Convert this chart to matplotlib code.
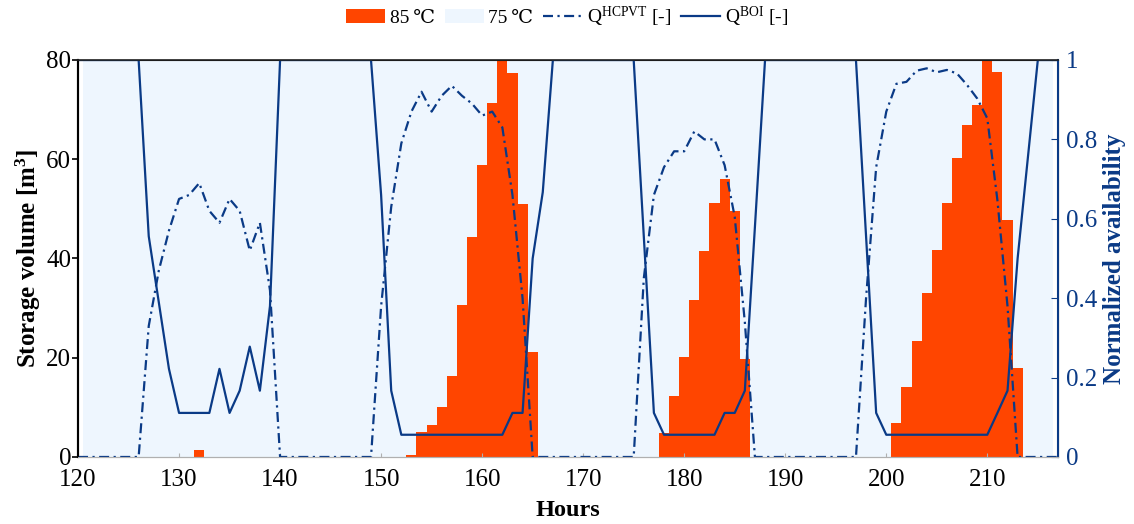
import numpy as np
import matplotlib
matplotlib.use('Agg')
import matplotlib.pyplot as plt

plt.rcParams['font.family'] = ['Liberation Serif', 'DejaVu Serif']
plt.rcParams['mathtext.fontset'] = 'custom'
plt.rcParams['mathtext.rm'] = 'Liberation Serif'
plt.rcParams['mathtext.it'] = 'Liberation Serif:italic'
plt.rcParams['mathtext.bf'] = 'Liberation Serif:bold'

# horas de las barras (121..216) y de las lineas (120..217)
horas_barras = np.arange(121, 217)
horas_lineas = np.arange(120, 218)

# volumen a 85 C [m3]
v85 = [0, 0, 0, 0, 0, 0, 0, 0, 0, 0, 0,
       1.5,
       0, 0, 0, 0, 0, 0, 0, 0, 0, 0, 0, 0, 0, 0, 0, 0, 0, 0, 0, 0,
       0.4, 5.0, 6.5, 10.1, 16.3, 30.6, 44.4, 58.8, 71.4, 80.0, 77.4, 51.0, 21.2,
       0, 0, 0, 0, 0, 0, 0, 0, 0, 0, 0, 0,
       4.8, 12.3, 20.1, 31.6, 41.5, 51.1, 56.0, 49.6, 19.7,
       0, 0, 0, 0, 0, 0, 0, 0, 0, 0, 0, 0, 0, 0,
       6.8, 14.2, 23.4, 33.0, 41.7, 51.1, 60.3, 66.9, 70.9, 80.0, 77.6, 47.8, 17.9,
       0, 0, 0]

# volumen a 75 C [m3]
v75 = [80, 80, 80, 80, 80, 80, 80, 80, 80, 80, 80,
       78.5,
       80, 80, 80, 80, 80, 80, 80, 80, 80, 80, 80, 80, 80, 80, 80, 80, 80, 80, 80, 80,
       79.6, 75.0, 73.5, 69.9, 63.7, 49.4, 35.6, 21.2, 8.6, 0.0, 2.6, 29.0, 58.8,
       80, 80, 80, 80, 80, 80, 80, 80, 80, 80, 80, 80,
       75.2, 67.7, 59.9, 48.4, 38.5, 28.9, 24.0, 30.4, 60.3,
       80, 80, 80, 80, 80, 80, 80, 80, 80, 80, 80, 80, 80, 80,
       73.2, 65.8, 56.6, 47.0, 38.3, 28.9, 19.7, 13.1, 9.1, 0.0, 2.4, 32.2, 62.1,
       80, 80, 80]

# disponibilidad normalizada HCPVT
q_hcpvt = [0, 0, 0, 0, 0, 0, 0,
           0.33, 0.47, 0.57, 0.65, 0.66, 0.69, 0.62, 0.59, 0.65, 0.62, 0.52, 0.59, 0.42,
           0, 0, 0, 0, 0, 0, 0, 0, 0, 0,
           0.38, 0.63, 0.79, 0.87, 0.92, 0.87, 0.91, 0.935, 0.91, 0.89, 0.86, 0.87, 0.83, 0.66, 0.40,
           0, 0, 0, 0, 0, 0, 0, 0, 0, 0, 0,
           0.45, 0.66, 0.73, 0.77, 0.77, 0.82, 0.80, 0.80, 0.735, 0.605, 0.34,
           0, 0, 0, 0, 0, 0, 0, 0, 0, 0, 0,
           0.40, 0.73, 0.87, 0.94, 0.945, 0.973, 0.979, 0.969, 0.975, 0.966, 0.937, 0.903, 0.853, 0.647, 0.38,
           0, 0, 0, 0, 0]

# disponibilidad normalizada caldera
q_boi = [1, 1, 1, 1, 1, 1, 1,
         0.556, 0.389, 0.222, 0.111, 0.111, 0.111, 0.111, 0.222, 0.111, 0.167, 0.278, 0.167, 0.38,
         1, 1, 1, 1, 1, 1, 1, 1, 1, 1,
         0.66, 0.167, 0.056, 0.056, 0.056, 0.056, 0.056, 0.056, 0.056, 0.056, 0.056, 0.056, 0.056,
         0.111, 0.111, 0.50, 0.667,
         1, 1, 1, 1, 1, 1, 1, 1, 1,
         0.556, 0.111, 0.056, 0.056, 0.056, 0.056, 0.056, 0.056, 0.111, 0.111, 0.167, 0.58,
         1, 1, 1, 1, 1, 1, 1, 1, 1, 1,
         0.556, 0.111, 0.056, 0.056, 0.056, 0.056, 0.056, 0.056, 0.056, 0.056, 0.056, 0.056, 0.056,
         0.111, 0.167, 0.50, 0.75,
         1, 1, 1]

naranja = '#FF4500'
celeste = '#EEF6FE'
azul = '#0A3A86'

fig = plt.figure(figsize=(11.34, 5.24), dpi=100)
ax = fig.add_axes([0.0688, 0.1279, 0.8642, 0.7576])
ax2 = ax.twinx()

#Barras apiladas
b1 = ax.bar(horas_barras, v85, width=1.0, color=naranja, linewidth=0, label='85\u2009\u2103')
b2 = ax.bar(horas_barras, v75, width=1.0, bottom=v85, color=celeste, linewidth=0, label='75\u2009\u2103')

#Lineas
l1, = ax2.plot(horas_lineas, q_hcpvt, color=azul, lw=1.6, linestyle=(0, (4.5, 2, 1, 2)),
               label=r'Q$^{\mathrm{HCPVT}}$ [-]')
l2, = ax2.plot(horas_lineas, q_boi, color=azul, lw=1.6, linestyle='-',
               label=r'Q$^{\mathrm{BOI}}$ [-]')

ax.set_xlim(120, 217)
ax.set_ylim(0, 80)
ax2.set_ylim(0, 1)
ax.set_xticks(range(120, 211, 10))
ax.set_yticks(range(0, 81, 20))
ax2.set_yticks([0, 0.2, 0.4, 0.6, 0.8, 1])
ax2.set_yticklabels(['0', '0.2', '0.4', '0.6', '0.8', '1'])

ax.tick_params(axis='x', labelsize=18, direction='in', length=3, color='#b0b0b0', pad=9)
ax.tick_params(axis='y', labelsize=18, direction='out', length=4, width=1.2, pad=1)
ax2.tick_params(axis='y', labelsize=18, direction='in', length=5, colors=azul, pad=6)

ax.set_xlabel('Hours', fontsize=17.5, fontweight='bold', labelpad=6)
ax.set_ylabel(r'Storage volume [m$^{\mathbf{3}}$]', fontsize=18, fontweight='bold', labelpad=2)
ax2.set_ylabel('Normalized availability', fontsize=18, fontweight='bold', color=azul, labelpad=4)

ax.spines['bottom'].set_color('#b0b0b0')
ax2.spines['bottom'].set_color('#b0b0b0')
ax.spines['left'].set_linewidth(1.5)
ax2.spines['left'].set_linewidth(1.5)
ax2.spines['right'].set_color(azul)
ax2.spines['right'].set_linewidth(1.5)
ax2.spines['top'].set_color('#222222')
ax2.spines['top'].set_linewidth(1.2)

fig.legend([b1, b2, l1, l2], [b1.get_label(), b2.get_label(), l1.get_label(), l2.get_label()],
           loc='upper center', bbox_to_anchor=(0.5, 1.025), ncol=4, frameon=False,
           fontsize=14, handlelength=2.0, handletextpad=0.25, columnspacing=0.5)

plt.savefig('out.png', dpi=100)
